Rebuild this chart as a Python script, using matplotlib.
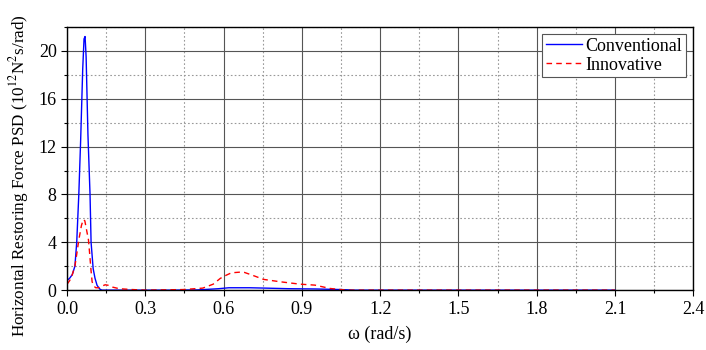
import matplotlib.pyplot as plt
import numpy as np
from matplotlib.ticker import MultipleLocator

plt.rcParams['font.family'] = ['Liberation Serif', 'DejaVu Serif']
plt.rcParams['mathtext.fontset'] = 'stix'

# omega (rad/s) and PSD values
conv_w = [0.0, 0.01, 0.02, 0.03, 0.037, 0.045, 0.052, 0.06, 0.065, 0.069, 0.073, 0.08, 0.088,
          0.092, 0.1, 0.107, 0.115, 0.125, 0.133, 0.2, 0.4, 0.5, 0.58, 0.62, 0.7, 0.76,
          0.85, 0.95, 1.05, 1.1, 1.5, 2.1]
conv_psd = [0.8, 1.0, 1.3, 2.0, 4.0, 8.0, 12.5, 18.5, 21.0, 21.2, 19.5, 13.0, 8.0,
            4.0, 1.8, 1.0, 0.4, 0.1, 0.0, 0.0, 0.0, 0.02, 0.12, 0.2, 0.2, 0.17,
            0.12, 0.1, 0.05, 0.0, 0.0, 0.0]

inno_w = [0.0, 0.01, 0.02, 0.03, 0.037, 0.045, 0.055, 0.062, 0.068, 0.075, 0.082, 0.086,
          0.092, 0.096, 0.102, 0.11, 0.12, 0.13, 0.146, 0.16, 0.175, 0.2, 0.25, 0.3, 0.445,
          0.52, 0.56, 0.587, 0.61, 0.63, 0.66, 0.68, 0.71, 0.753, 0.817, 0.893, 0.95,
          1.008, 1.04, 1.072, 1.5, 2.1]
inno_psd = [0.5, 0.8, 1.3, 2.0, 3.0, 4.2, 5.4, 5.9, 5.8, 5.0, 4.2, 3.2,
            1.6, 0.7, 0.35, 0.2, 0.2, 0.3, 0.45, 0.4, 0.25, 0.12, 0.05, 0.0, 0.05,
            0.17, 0.5, 0.98, 1.25, 1.45, 1.5, 1.48, 1.25, 0.9, 0.7, 0.5, 0.42,
            0.14, 0.07, 0.0, 0.0, 0.0]

fig = plt.figure(figsize=(7.06, 3.5), dpi=100)
ax = fig.add_axes([0.095, 0.171, 0.887, 0.752])

ax.plot(conv_w, conv_psd, color='blue', lw=1.0, label='Conventional')
ax.plot(inno_w, inno_psd, color='red', lw=1.0, ls=(0, (4, 3)), label='Innovative')

ax.set_xlim(0, 2.4)
ax.set_ylim(0, 22)
ax.xaxis.set_major_locator(MultipleLocator(0.3))
ax.xaxis.set_minor_locator(MultipleLocator(0.15))
ax.yaxis.set_major_locator(MultipleLocator(4))
ax.yaxis.set_minor_locator(MultipleLocator(2))
ax.xaxis.set_major_formatter(plt.FormatStrFormatter('%.1f'))

ax.grid(which='major', color='#555555', lw=0.8, ls='-')
ax.grid(which='minor', color='#999999', lw=0.8, ls=(0, (1.5, 2)))
ax.set_axisbelow(True)

ax.tick_params(which='major', direction='out', length=4, width=0.8, labelsize=13, colors='black')
ax.tick_params(which='minor', direction='out', length=2.5, width=0.8)
for s in ax.spines.values():
    s.set_linewidth(1.0)

ax.set_xlabel(r'ω (rad/s)', fontsize=13, labelpad=6)
ax.set_ylabel(r'Horizontal Restoring Force PSD (10$^{12}$N$^{2}$s/rad)', fontsize=12.3)
ax.yaxis.set_label_coords(-0.058, 0.437)

leg = ax.legend(loc='upper right', fontsize=13, handlelength=2.0, handletextpad=0.2,
                borderpad=0.2, labelspacing=0.1, fancybox=False, framealpha=1,
                edgecolor='#555555', borderaxespad=0.4)
leg.get_frame().set_linewidth(0.8)

fig.savefig('out.png', dpi=100)
